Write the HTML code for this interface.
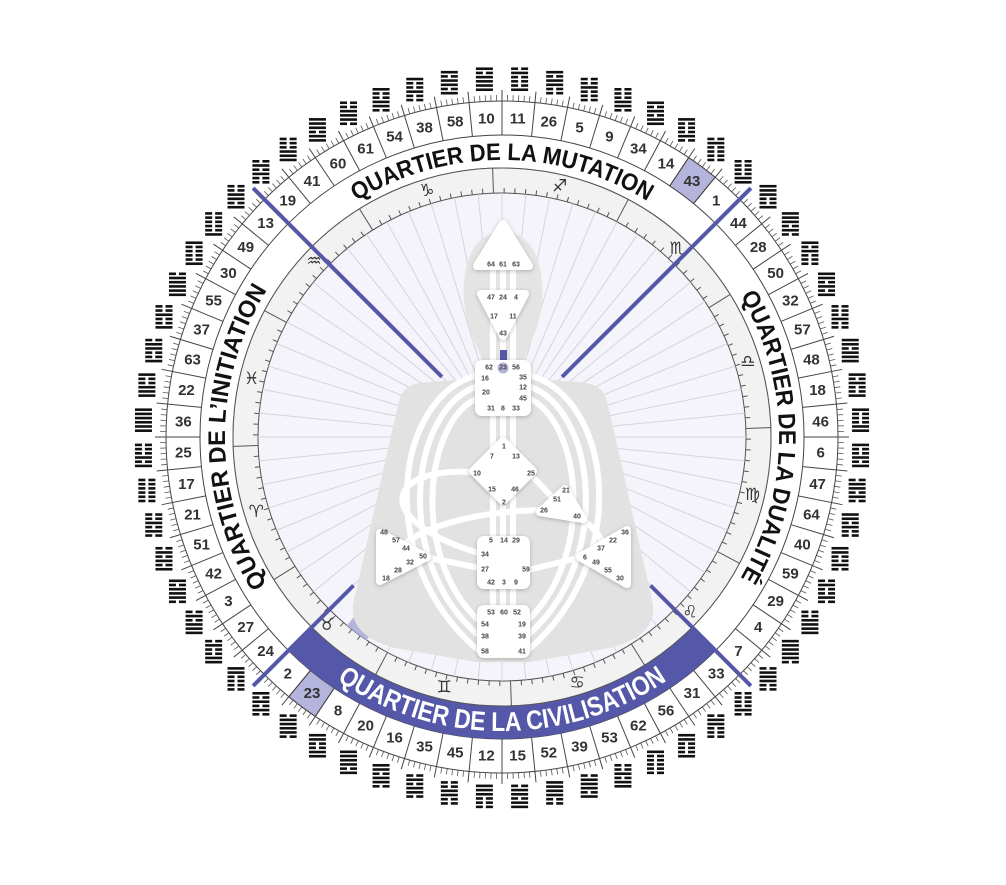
<!DOCTYPE html>
<html><head><meta charset="utf-8"><style>
html,body{margin:0;padding:0;background:#fff;}
svg{display:block;}
.n{font-family:"Liberation Sans",sans-serif;font-weight:bold;font-size:7px;fill:#444;text-anchor:middle;dominant-baseline:central;}
.q{font-family:"Liberation Sans",sans-serif;font-weight:bold;font-size:24px;fill:#111;}
</style></head><body>
<svg id="s" width="1006" height="885" viewBox="0 0 1006 885" xmlns="http://www.w3.org/2000/svg">
<defs>
<filter id="sh" x="-30%" y="-30%" width="160%" height="160%"><feDropShadow dx="0" dy="1" stdDeviation="2" flood-color="#000" flood-opacity="0.25"/></filter>
<path id="pt" d="M306.1,241.1 A277,277 0 0 1 697.9,241.1"/>
<path id="pr" d="M697.9,241.1 A277,277 0 0 1 697.9,632.9"/>
<path id="pl" d="M306.1,632.9 A277,277 0 0 1 306.1,241.1"/>
<path id="pb" d="M294.1,644.9 A294,294 0 0 0 709.9,644.9"/>
</defs>
<g id="g"></g>
<g id="txt">
<text class="q"><textPath href="#pt" startOffset="50%" text-anchor="middle" textLength="306" lengthAdjust="spacingAndGlyphs">QUARTIER DE LA MUTATION</textPath></text>
<text class="q"><textPath href="#pr" startOffset="50%" text-anchor="middle" textLength="296" lengthAdjust="spacingAndGlyphs">QUARTIER DE LA DUALITÉ</textPath></text>
<text class="q"><textPath href="#pl" startOffset="50%" text-anchor="middle" textLength="310" lengthAdjust="spacingAndGlyphs">QUARTIER DE L’INITIATION</textPath></text>
<text class="q" style="fill:#fff;font-size:27px"><textPath href="#pb" startOffset="50%" text-anchor="middle" textLength="350" lengthAdjust="spacingAndGlyphs">QUARTIER DE LA CIVILISATION</textPath></text>
</g>
<g id="body">
<path d="M420,383 C460,378 545,378 585,383 C600,385 605,392 608,405 L652,600 C658,625 640,640 610,648 L530,662 L476,662 L395,648 C365,640 348,625 354,600 L398,405 C401,392 406,385 420,383 Z" fill="#e2e2e2"/>
<path d="M503,232 C470,232 462,270 464,300 C466,330 478,345 482,360 L524,360 C528,345 540,330 542,300 C544,270 536,232 503,232 Z" fill="#e4e4e4"/>
<g fill="none" stroke="#fff" stroke-width="6">
<line x1="493" y1="268" x2="493" y2="610"/><line x1="503" y1="268" x2="503" y2="610"/><line x1="513" y1="268" x2="513" y2="610"/>
<path d="M478,375 C395,395 372,560 478,650"/>
<path d="M478,386 C410,408 392,560 478,635"/>
<path d="M478,398 C425,420 410,555 478,620"/>
<path d="M528,375 C611,395 634,560 528,650"/>
<path d="M528,386 C596,408 614,560 528,635"/>
<path d="M528,398 C581,420 596,555 528,620"/>
<path d="M470,472 C385,468 372,520 478,553"/>
<path d="M540,510 C470,512 420,528 400,548"/>
<path d="M425,557 L480,568"/><path d="M528,570 L582,557"/>
<path d="M533,477 L552,497"/>
<path d="M583,520 C598,530 606,545 603,552"/>
</g>
<rect x="500" y="350" width="7" height="15" fill="#5558a8"/>
<g fill="#fff" stroke="#fff" stroke-width="8" stroke-linejoin="round" filter="url(#sh)">
<path d="M503,224 L529,266 L477,266 Z"/>
<path d="M481,294 L525,294 L503,336 Z"/>
<rect x="479" y="364" width="48" height="48" rx="3"/>
<path d="M503,441 L533,471 L503,501 L473,471 Z"/>
<path d="M565,489 L583,519 L540,512 Z"/>
<rect x="481" y="540" width="45" height="45" rx="3"/>
<rect x="481" y="609" width="45" height="45" rx="3"/>
<path d="M380,533 L427,557 L380,581 Z"/>
<path d="M627,530 L627,584 L580,557 Z"/>
</g>
<circle cx="503" cy="368" r="5.5" fill="#b4b4dc"/>
<g class="n">
<text x="491" y="265" class="n">64</text><text x="503" y="265" class="n">61</text><text x="516" y="265" class="n">63</text>
<text x="491" y="298" class="n">47</text><text x="503" y="298" class="n">24</text><text x="516" y="298" class="n">4</text>
<text x="494" y="317" class="n">17</text><text x="513" y="317" class="n">11</text><text x="503" y="334" class="n">43</text>
<text x="489" y="368" class="n">62</text><text x="503" y="368" class="n">23</text><text x="516" y="368" class="n">56</text>
<text x="485" y="379" class="n">16</text><text x="523" y="378" class="n">35</text><text x="486" y="393" class="n">20</text>
<text x="523" y="388" class="n">12</text><text x="523" y="399" class="n">45</text>
<text x="491" y="409" class="n">31</text><text x="503" y="409" class="n">8</text><text x="516" y="409" class="n">33</text>
<text x="504" y="447" class="n">1</text><text x="492" y="457" class="n">7</text><text x="516" y="457" class="n">13</text>
<text x="477" y="474" class="n">10</text><text x="531" y="474" class="n">25</text><text x="492" y="490" class="n">15</text>
<text x="515" y="490" class="n">46</text><text x="504" y="503" class="n">2</text>
<text x="566" y="491" class="n">21</text><text x="557" y="500" class="n">51</text><text x="544" y="511" class="n">26</text><text x="577" y="517" class="n">40</text>
<text x="491" y="541" class="n">5</text><text x="504" y="541" class="n">14</text><text x="516" y="541" class="n">29</text>
<text x="485" y="555" class="n">34</text><text x="485" y="570" class="n">27</text><text x="526" y="570" class="n">59</text>
<text x="491" y="583" class="n">42</text><text x="504" y="583" class="n">3</text><text x="516" y="583" class="n">9</text>
<text x="491" y="613" class="n">53</text><text x="504" y="613" class="n">60</text><text x="517" y="613" class="n">52</text>
<text x="485" y="625" class="n">54</text><text x="522" y="625" class="n">19</text><text x="485" y="637" class="n">38</text>
<text x="522" y="637" class="n">39</text><text x="485" y="652" class="n">58</text><text x="522" y="652" class="n">41</text>
<text x="384" y="533" class="n">48</text><text x="396" y="541" class="n">57</text><text x="406" y="549" class="n">44</text>
<text x="423" y="557" class="n">50</text><text x="410" y="563" class="n">32</text><text x="398" y="571" class="n">28</text><text x="386" y="579" class="n">18</text>
<text x="625" y="533" class="n">36</text><text x="613" y="541" class="n">22</text><text x="601" y="549" class="n">37</text>
<text x="585" y="558" class="n">6</text><text x="596" y="563" class="n">49</text><text x="608" y="571" class="n">55</text><text x="620" y="579" class="n">30</text>
</g>
</g>
</svg>
<script>
(function(){
var cx=502,cy=437,NS="http://www.w3.org/2000/svg";
var G=document.getElementById("g");
function P(a,r){a=a*Math.PI/180;return [cx+r*Math.sin(a),cy-r*Math.cos(a)];}
function el(t,at,par,txt){var e=document.createElementNS(NS,t);for(var k in at)e.setAttribute(k,at[k]);if(txt!=null)e.textContent=txt;(par||G).appendChild(e);return e;}
function sector(a1,a2,r1,r2){var p1=P(a1,r2),p2=P(a2,r2),p3=P(a2,r1),p4=P(a1,r1);var lg=(a2-a1)>180?1:0;
return "M"+p1+" A"+r2+","+r2+" 0 "+lg+" 1 "+p2+" L"+p3+" A"+r1+","+r1+" 0 "+lg+" 0 "+p4+" Z";}
function line(a,r1,r2,st,w){var p=P(a,r1),q=P(a,r2);el("line",{x1:p[0],y1:p[1],x2:q[0],y2:q[1],stroke:st,"stroke-width":w});}
var gates=[11,26,5,9,34,14,43,1,44,28,50,32,57,48,18,46,6,47,64,40,59,29,4,7,33,31,56,62,53,39,52,15,12,45,35,16,20,8,23,2,24,27,3,42,51,21,17,25,36,22,63,37,55,30,49,13,19,41,60,61,54,38,58,10];
var S=5.625;
el("circle",{cx:cx,cy:cy,r:336,fill:"#fff",stroke:"#444","stroke-width":1});
el("circle",{cx:cx,cy:cy,r:302,fill:"#fff",stroke:"#444","stroke-width":1});
[6,38].forEach(function(i){el("path",{d:sector(i*S,(i+1)*S,302,336),fill:"#b4b4dc",stroke:"#444","stroke-width":1});});
el("circle",{cx:cx,cy:cy,r:269,fill:"#fff",stroke:"#555","stroke-width":1});
el("path",{d:sector(135,225,269,302),fill:"#5558a8"});
el("circle",{cx:cx,cy:cy,r:269,fill:"#f2f2f2",stroke:"#555","stroke-width":1});
el("circle",{cx:cx,cy:cy,r:244,fill:"#f4f4fa",stroke:"#555","stroke-width":1});
for(var i=0;i<64;i++)line(i*S,0,244,"#d4d4de",1);
el("path",{d:sector(38*S,39*S,215,244),fill:"#b4b4dc"});
for(var t=0;t<144;t++){var a=-2+t*2.5;line(a,244,(t%12==0)?269:249,"#555",1);}
var zs=["\u2650","\u264F","\u264E","\u264D","\u264C","\u264B","\u264A","\u2649","\u2648","\u2653","\u2652","\u2651"];
for(var z=0;z<12;z++){var p=P(13+z*30,257);el("text",{x:p[0],y:p[1],"font-family":"DejaVu Sans,sans-serif","font-size":"17","fill":"#333","text-anchor":"middle","dominant-baseline":"central"},null,zs[z]+"\uFE0E");}
for(var i=0;i<64;i++){
 line(i*S,302,347,"#444",1);
 for(var k=1;k<6;k++)line(i*S+k*S/6,336,342,"#555",0.8);
 var p=P((i+0.5)*S,319);
 el("text",{x:p[0],y:p[1]+0.5,"font-family":"Liberation Sans,sans-serif","font-weight":"bold","font-size":"15","fill":"#333","text-anchor":"middle","dominant-baseline":"central"},null,String(gates[i]));
 var h=P((i+0.5)*S,359);var g=el("g",{transform:"translate("+(h[0]-8.5)+","+(h[1]-11)+")"});
 var code=(gates[i]*37+11)%64;
 for(var L=0;L<6;L++){var y=L*4.2;
  if((code>>L)&1){el("rect",{x:0,y:y,width:17,height:2.6,fill:"#111"},g);}
  else{el("rect",{x:0,y:y,width:7,height:2.6,fill:"#111"},g);el("rect",{x:10,y:y,width:7,height:2.6,fill:"#111"},g);}
 }
}
[315,45].forEach(function(a){line(a,85,352,"#5558a8",4);});
[135,225].forEach(function(a){line(a,210,352,"#5558a8",4);});
var s=document.getElementById("s");s.appendChild(document.getElementById("txt"));s.appendChild(document.getElementById("body"));
})();
</script>
</body></html>
